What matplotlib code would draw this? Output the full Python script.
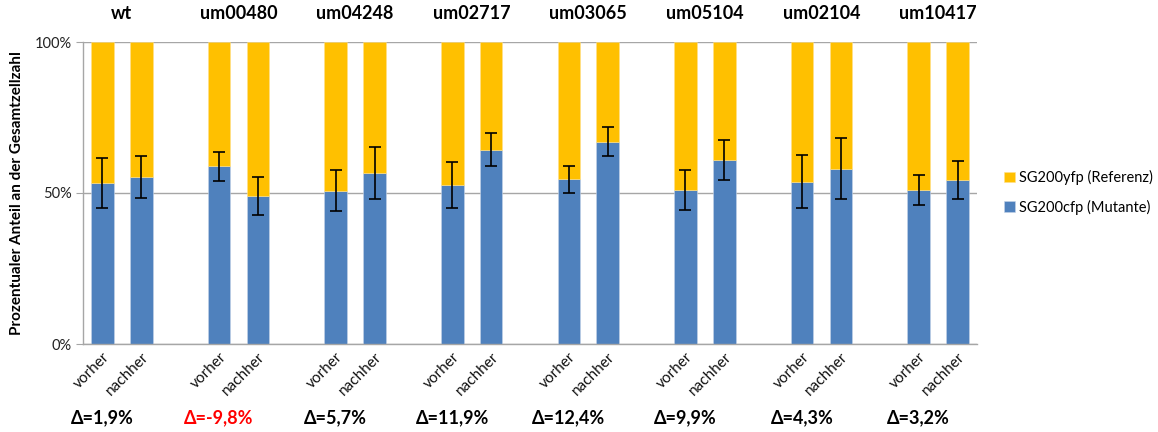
import matplotlib
matplotlib.use("Agg")
import matplotlib.pyplot as plt
import numpy as np

plt.rcParams['font.family'] = ['Lato', 'DejaVu Sans']

strains = ["wt", "um00480", "um04248", "um02717", "um03065", "um05104", "um02104", "um10417"]
conditions = ["vorher", "nachher"]

# Share of the mutant strain (SG200cfp) in % of all cells, per strain: (vorher, nachher)
mutant_vorher = [53.4, 58.9, 50.8, 52.5, 54.5, 51.0, 53.8, 51.0]
mutant_nachher = [55.3, 49.1, 56.5, 64.4, 66.9, 60.9, 58.1, 54.2]
err_vorher = [8.3, 4.8, 6.8, 7.6, 4.4, 6.6, 8.9, 5.0]
err_nachher = [7.0, 6.3, 8.6, 5.6, 4.8, 6.6, 10.1, 6.3]
deltas = [1.9, -9.8, 5.7, 11.9, 12.4, 9.9, 4.3, 3.2]

blue = "#4F81BD"
yellow = "#FFC000"
grid = "#A6A6A6"

# build category slots: vorher, nachher, gap (no gap after the last group)
labels, mutant, errs = [], [], []
for i in range(len(strains)):
    labels += conditions
    mutant += [mutant_vorher[i], mutant_nachher[i]]
    errs += [err_vorher[i], err_nachher[i]]
    if i < len(strains) - 1:
        labels.append("")
        mutant.append(np.nan)
        errs.append(np.nan)
x = np.arange(len(labels))
mutant = np.array(mutant)
errs = np.array(errs)
reference = 100 - mutant
mask = ~np.isnan(mutant)

fig = plt.figure(figsize=(11.58, 4.32), dpi=100)
ax = fig.add_axes([83 / 1158, 1 - 344 / 432, (977 - 83) / 1158, (344 - 42) / 432])

w = 0.58
b1 = ax.bar(x[mask], mutant[mask], width=w, color=blue, edgecolor="#C6D4E8", linewidth=0.4,
            label="SG200cfp (Mutante)", zorder=2)
b2 = ax.bar(x[mask], reference[mask], width=w, bottom=mutant[mask], color=yellow,
            edgecolor="#FFE08A", linewidth=0.4, label="SG200yfp (Referenz)", zorder=2)
ax.errorbar(x[mask], mutant[mask], yerr=errs[mask], fmt="none", ecolor="black",
            elinewidth=1.2, capsize=4.5, capthick=1.2, zorder=3)

ax.set_xlim(-0.5, len(labels) - 0.5)
ax.set_ylim(0, 100)
ax.set_yticks([0, 50, 100])
ax.set_yticklabels(["0%", "50%", "100%"], fontsize=10.5, color="#222222")
ax.yaxis.grid(True, color=grid, linewidth=1.0, zorder=0)
ax.set_axisbelow(True)
for s in ["top", "right"]:
    ax.spines[s].set_visible(False)
ax.spines["left"].set_color(grid)
ax.spines["bottom"].set_color(grid)
ax.spines["left"].set_linewidth(1.0)
ax.spines["bottom"].set_linewidth(1.0)
ax.tick_params(axis="y", length=5, color=grid, pad=3)

ax.set_xticks(x[mask])
ax.set_xticklabels([l for l, m in zip(labels, mask) if m], rotation=45, ha="right",
                   rotation_mode="anchor", fontsize=11, color="#111111")
ax.tick_params(axis="x", length=0, pad=4)

ax.set_ylabel("Prozentualer Anteil an der Gesamtzellzahl", fontsize=11, fontweight="bold",
              labelpad=8)

trans = ax.get_xaxis_transform()
for i, name in enumerate(strains):
    xv = 3 * i
    ax.text(xv + 0.5, 1.096, name, transform=trans, ha="center", va="center",
            fontsize=13, fontweight="bold")
    d = deltas[i]
    txt = "Δ=" + f"{d:.1f}".replace(".", ",") + "%"
    ax.text(xv, -0.245, txt, transform=trans, ha="center", va="center", fontsize=13,
            fontweight="bold", color="#FF0000" if d < 0 else "black")

fig.legend(handles=[b2, b1], labels=["SG200yfp (Referenz)", "SG200cfp (Mutante)"],
           loc="center left", bbox_to_anchor=(0.862, 0.555), frameon=False, fontsize=10.5,
           handlelength=0.75, handleheight=0.75, handletextpad=0.3, labelspacing=1.0,
           borderaxespad=0)

fig.savefig("out.png", dpi=100)
